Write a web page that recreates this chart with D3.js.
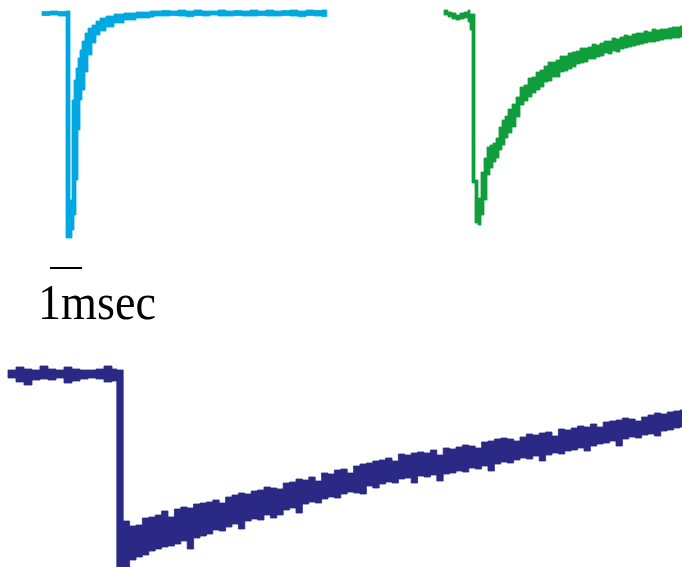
<!DOCTYPE html>
<html>
<head>
<meta charset="utf-8">
<script src="https://cdn.jsdelivr.net/npm/d3@7"></script>
<style>
  html, body { margin: 0; padding: 0; background: #ffffff; }
  svg { display: block; }
</style>
</head>
<body>
<svg id="fig" width="682" height="567"></svg>
<script>
// Whole-cell current records, drawn as min/max envelopes per time bin.
// Time in ms from the start of each sweep, current in pA relative to baseline.

// --- Fast record (cyan) ---
const cyanTime = [0, 0.25, 0.5, 0.75, 0.875, 0.9375, 1.0, 1.0625, 1.125, 1.1875, 1.25, 1.34375, 1.4375, 1.5625, 1.6875, 1.8125, 2.0, 2.25, 2.5625, 2.9375, 3.375,
  3.5, 3.75, 4.0, 4.25, 4.5, 4.75, 5.0, 5.25, 5.5, 5.75, 6.0, 6.25, 6.5, 6.75, 7.0, 7.25, 7.5, 7.75, 8.0, 8.25, 8.5, 8.75, 8.9];
const cyanHigh = [3, 4, 3, 4, -374, -174, -134, -110, -90, -74, -56, -40, -30, -24, -16, -10, -6, -2, 0, 2, 4,
  4, 5, 4, 6, 4, 6, 4, 4, 6, 4, 5, 4, 6, 4, 6, 4, 5, 6, 4, 6, 5, 6, 6];
const cyanLow = [-5, -4, -6, -450, -450, -434, -404, -334, -234, -174, -154, -118, -84, -60, -44, -36, -28, -20, -14, -10, -8,
  -6, -6, -5, -6, -7, -5, -6, -4, -6, -6, -5, -6, -6, -5, -6, -6, -5, -6, -7, -5, -6, -7, -7];

// --- Intermediate record (green) ---
const greenTime = [0, 0.125, 0.25, 0.375, 0.5, 0.625, 0.75, 0.8125, 0.875, 0.96875, 1.0625, 1.15625, 1.25, 1.34375, 1.4375, 1.53125, 1.625, 1.71875, 1.8125, 1.90625,
  2.0, 2.125, 2.25, 2.375, 2.5, 2.625, 2.75, 2.875, 3.0, 3.125, 3.25, 3.375, 3.5, 3.625, 3.75, 3.875, 4.0, 4.125, 4.25, 4.375, 4.5, 4.625, 4.75, 4.875,
  5.0, 5.125, 5.25, 5.375, 5.5, 5.625, 5.75, 5.875, 6.0, 6.125, 6.25, 6.375, 6.5, 6.625, 6.75, 6.875, 7.0, 7.125, 7.25, 7.375, 7.5625];
const greenHigh = [4, 0, -2, -6, -2, 0, 4, -4, -4, -336, -372, -320, -292, -270, -266, -262, -252, -230, -216, -208,
  -194, -184, -170, -150, -146, -132, -130, -120, -116, -108, -100, -100, -96, -88, -88, -82, -80, -78, -72, -72, -70, -64, -66, -62,
  -58, -58, -52, -54, -50, -46, -48, -44, -42, -42, -38, -40, -34, -36, -34, -34, -32, -30, -30, -28, -28];
const greenLow = [-6, -10, -14, -16, -14, -12, -20, -36, -342, -422, -426, -406, -376, -326, -312, -300, -292, -276, -266, -252,
  -242, -230, -210, -186, -178, -170, -162, -156, -150, -140, -138, -130, -130, -120, -118, -114, -110, -104, -102, -100, -94, -94, -90, -88,
  -82, -84, -78, -80, -74, -72, -70, -68, -66, -64, -62, -60, -60, -58, -56, -54, -54, -52, -52, -50, -50];

// --- Slow record (navy) ---
const navyTime = [0, 0.25, 0.5, 0.75, 1.0, 1.25, 1.5, 1.75, 2.0, 2.25, 2.5, 2.75, 3.0, 3.25, 3.4,
  3.6, 3.8, 4.0, 4.2, 4.4, 4.6, 4.8, 5.0, 5.2, 5.4, 5.6, 5.8, 6.0, 6.2, 6.4, 6.6, 6.8, 7.0, 7.2, 7.4, 7.6, 7.8,
  8.0, 8.2, 8.4, 8.6, 8.8, 9.0, 9.2, 9.4, 9.6, 9.8, 10.0, 10.2, 10.4, 10.6, 10.8, 11.0, 11.2, 11.4, 11.6, 11.8,
  12.0, 12.2, 12.4, 12.6, 12.8, 13.0, 13.2, 13.4, 13.6, 13.8, 14.0, 14.2, 14.4, 14.6, 14.8, 15.0, 15.2, 15.4, 15.6, 15.8,
  16.0, 16.2, 16.4, 16.6, 16.8, 17.0, 17.2, 17.4, 17.6, 17.8, 18.0, 18.2, 18.4, 18.6, 18.8, 19.0, 19.2, 19.4, 19.6, 19.8,
  20.0, 20.2, 20.4, 20.6, 20.8, 21.0, 21.2];
const navyHigh = [12, 18, 14, 12, 20, 14, 12, 18, 14, 12, 12, 14, 20, 14, 12,
  -290, -300, -298, -284, -282, -278, -270, -282, -266, -262, -264, -256, -254, -252, -248, -254, -242, -238, -234, -236, -230, -228,
  -222, -224, -226, -214, -212, -206, -208, -202, -210, -194, -196, -188, -186, -194, -180, -176, -174, -170, -168, -164,
  -170, -156, -158, -154, -152, -154, -148, -158, -144, -146, -142, -138, -140, -144, -132, -130, -126, -124, -126, -130,
  -122, -116, -118, -114, -112, -120, -106, -108, -104, -100, -102, -96, -102, -92, -90, -88, -84, -86, -90, -82,
  -78, -74, -76, -72, -70, -68, -68];
const navyLow = [-4, -12, -18, -8, -6, -8, -4, -14, -10, -6, -4, -6, -12, -10, -390,
  -390, -368, -362, -358, -350, -346, -342, -340, -336, -330, -346, -324, -320, -316, -308, -310, -302, -296, -306, -290, -286, -288,
  -278, -284, -278, -268, -264, -274, -256, -252, -254, -246, -242, -244, -236, -232, -234, -236, -220, -224, -216, -212,
  -214, -206, -204, -214, -200, -202, -198, -210, -196, -194, -190, -192, -184, -186, -180, -190, -176, -172, -174, -168,
  -164, -166, -160, -170, -158, -154, -156, -150, -148, -144, -150, -140, -136, -134, -130, -140, -126, -122, -124, -118,
  -116, -120, -110, -108, -104, -102, -102];

// Scale bar
const scaleBarMs = 1;
const scaleBarLabel = "1msec";

const svg = d3.select("#fig");

// ms -> px (shared by all three sweeps and the scale bar)
const x = d3.scaleLinear().domain([0, 1]).range([0, 32]);

// pA -> px, one scale per sweep (same gain, different baseline position)
function currentScale(baseY) {
  return d3.scaleLinear().domain([0, -100]).range([baseY, baseY + 50]);
}

const records = [
  { time: cyanTime, high: cyanHigh, low: cyanLow, color: "#00a8e1", originX: 42, baseY: 13 },
  { time: greenTime, high: greenHigh, low: greenLow, color: "#0f9e3b", originX: 444, baseY: 12 },
  { time: navyTime, high: navyHigh, low: navyLow, color: "#2a2985", originX: 8, baseY: 376 }
];

records.forEach(rec => {
  const y = currentScale(rec.baseY);
  const rows = rec.time.map((t, i) => ({ t, hi: rec.high[i], lo: rec.low[i] }));
  const area = d3.area()
    .x(d => x(d.t))
    .y0(d => y(d.lo))
    .y1(d => y(d.hi))
    .curve(d3.curveStepAfter);
  svg.append("g")
    .attr("transform", `translate(${rec.originX},0)`)
    .append("path")
    .datum(rows)
    .attr("d", area)
    .attr("fill", rec.color)
    .attr("stroke", rec.color)
    .attr("stroke-width", 0.8)
    .attr("stroke-linejoin", "miter");
});

// 1 ms scale bar with label
const bar = svg.append("g").attr("transform", "translate(50,268)");
bar.append("line")
  .attr("x1", x(0)).attr("x2", x(scaleBarMs))
  .attr("y1", 0).attr("y2", 0)
  .attr("stroke", "#000").attr("stroke-width", 2);

svg.append("text")
  .attr("x", 38).attr("y", 319)
  .attr("font-family", "'Liberation Serif', 'Times New Roman', serif")
  .attr("font-size", 50)
  .attr("textLength", 118)
  .attr("lengthAdjust", "spacingAndGlyphs")
  .attr("fill", "#000")
  .text(scaleBarLabel);
</script>
</body>
</html>
